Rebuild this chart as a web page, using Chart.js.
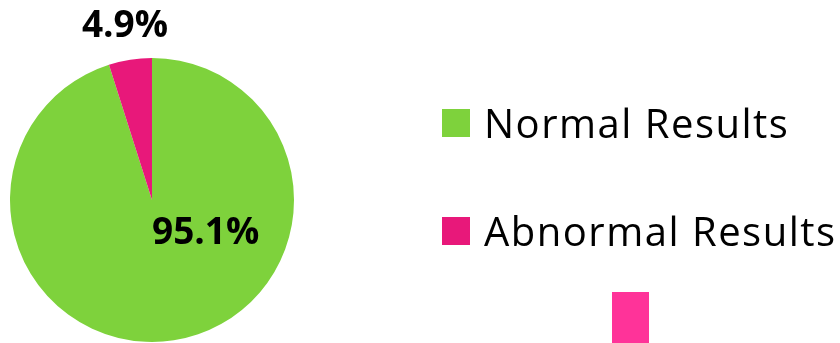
<!DOCTYPE html>
<html>
<head>
<meta charset="utf-8">
<script src="https://cdn.jsdelivr.net/npm/chart.js@4/dist/chart.umd.min.js"></script>
<style>
  html, body { margin: 0; padding: 0; background: #ffffff; }
  #wrap { width: 840px; height: 343px; position: relative; }
</style>
</head>
<body>
<div id="wrap"><canvas id="pie"></canvas></div>
<script>
// Share of test results
const categories = ['Normal Results', 'Abnormal Results'];
const shares = [95.1, 4.9];
const valueLabels = ['95.1%', '4.9%'];
const sliceColors = ['#7ED23C', '#E8187A'];
const accentColor = '#FF3399';

const FONT = '"Open Sans", "Noto Sans", sans-serif';

// Percent labels: the big slice is labelled inside, the small one outside
const sliceLabels = {
  id: 'sliceLabels',
  afterDatasetsDraw(chart) {
    const ctx = chart.ctx;
    const arcs = chart.getDatasetMeta(0).data;
    ctx.save();
    ctx.fillStyle = '#000000';
    ctx.font = 'bold 37px ' + FONT;
    ctx.textBaseline = 'alphabetic';
    arcs.forEach((arc, i) => {
      const r = arc.outerRadius;
      if (shares[i] > 50) {
        ctx.textAlign = 'left';
        ctx.fillText(valueLabels[i], arc.x, arc.y + 0.31 * r);
      } else {
        const mid = (arc.startAngle + arc.endAngle) / 2;
        const d = 1.24 * r;
        ctx.textAlign = 'center';
        ctx.fillText(valueLabels[i], arc.x + Math.cos(mid) * d, arc.y + Math.sin(mid) * d + 11);
      }
    });
    ctx.restore();
  }
};

// Legend on the right, one row per category
const sideLegend = {
  id: 'sideLegend',
  afterDraw(chart) {
    const ctx = chart.ctx;
    const left = chart.chartArea.right + 148;
    const top = 109;
    const box = 28;
    const step = 108;
    ctx.save();
    ctx.font = '40px ' + FONT;
    ctx.letterSpacing = '1.5px';
    ctx.textAlign = 'left';
    ctx.textBaseline = 'alphabetic';
    categories.forEach((name, i) => {
      const y = top + i * step;
      ctx.fillStyle = sliceColors[i];
      ctx.fillRect(left, y, box, box);
      ctx.fillStyle = '#000000';
      ctx.fillText(name, left + box + 14, y + box + 1);
    });
    // trailing accent swatch under the legend
    ctx.fillStyle = accentColor;
    ctx.fillRect(left + 170, top + 2 * step - 33, 37, 60);
    ctx.restore();
  }
};

new Chart(document.getElementById('pie'), {
  type: 'pie',
  data: {
    labels: categories,
    datasets: [{
      data: shares,
      backgroundColor: sliceColors,
      borderWidth: 0,
      hoverOffset: 0
    }]
  },
  options: {
    responsive: true,
    maintainAspectRatio: false,
    animation: false,
    layout: { padding: { left: 10, top: 58, right: 546, bottom: 1 } },
    plugins: {
      legend: { display: false },
      tooltip: { enabled: false }
    }
  },
  plugins: [sliceLabels, sideLegend]
});
</script>
</body>
</html>
